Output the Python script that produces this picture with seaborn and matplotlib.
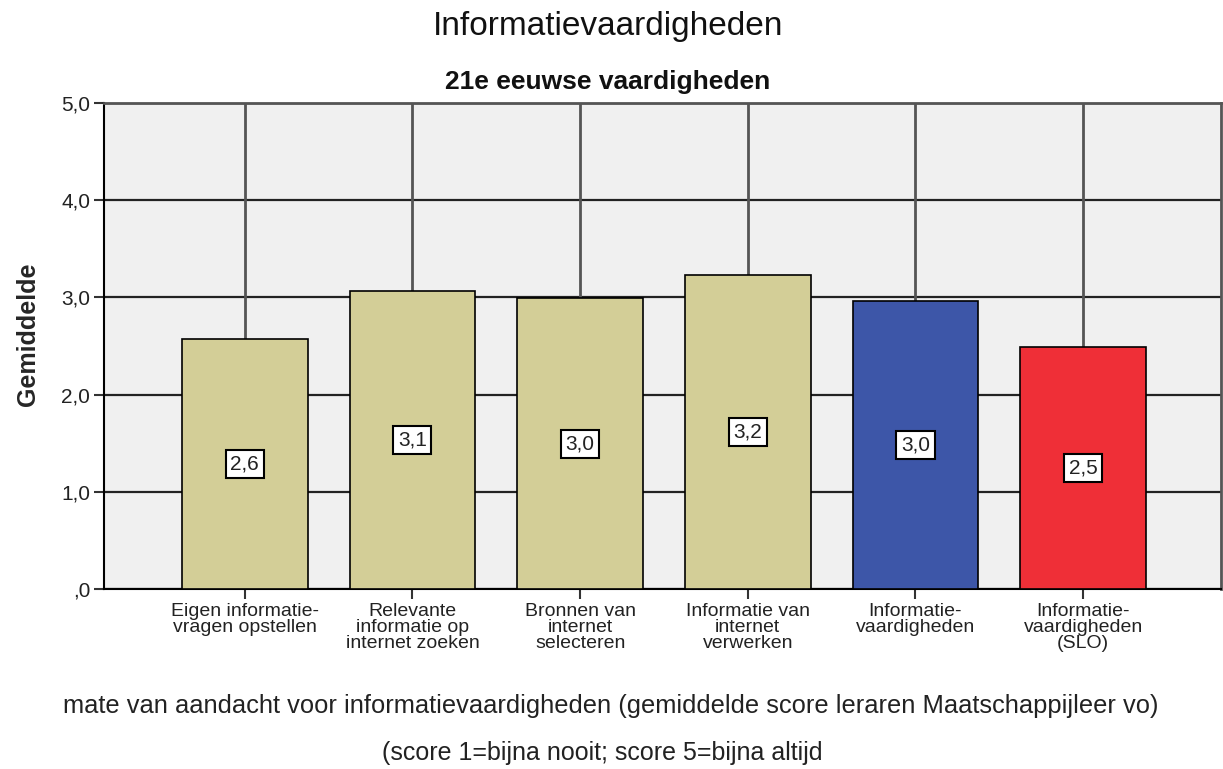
import matplotlib
matplotlib.use('Agg')
import matplotlib.pyplot as plt
import seaborn as sns
import pandas as pd

categories = ['Eigen informatie-\nvragen opstellen', 'Relevante\ninformatie op\ninternet zoeken',
              'Bronnen van\ninternet\nselecteren', 'Informatie van\ninternet\nverwerken',
              'Informatie-\nvaardigheden', 'Informatie-\nvaardigheden\n(SLO)']
values = [2.57, 3.07, 2.99, 3.23, 2.96, 2.49]
labels = ['2,6', '3,1', '3,0', '3,2', '3,0', '2,5']
colors = ['#D3CE97', '#D3CE97', '#D3CE97', '#D3CE97', '#3D56A8', '#EF2F37']
yticks = [0, 1, 2, 3, 4, 5]
ytick_labels = [',0', '1,0', '2,0', '3,0', '4,0', '5,0']

df = pd.DataFrame({'cat': categories, 'val': values})

sns.set_style('white')
plt.rcParams['font.family'] = ['Liberation Sans', 'DejaVu Sans']

fig = plt.figure(figsize=(12.23, 7.69), dpi=100)
ax = fig.add_axes([0.085, 0.234, 0.913, 0.632])
ax.set_facecolor('#F0F0F0')

sns.barplot(data=df, x='cat', y='val', hue='cat', palette=colors, legend=False, saturation=1,
            width=0.75, edgecolor='black', linewidth=1.2, ax=ax, zorder=3)

ax.set_xlim(-0.84, 5.82)
ax.set_ylim(0, 5)
ax.set_yticks(yticks)
ax.set_yticklabels(ytick_labels, fontsize=15, color='#222222')
ax.set_xticks(range(len(categories)))
ax.set_xticklabels(categories, fontsize=14, linespacing=0.94, color='#222222')
ax.tick_params(axis='both', direction='out', length=7, width=1.5, color='#333333',
               left=True, bottom=True, pad=3)

for y in yticks:
    ax.axhline(y, color='#222222', lw=1.6, zorder=1)
for x in range(len(categories)):
    ax.axvline(x, color='#555555', lw=2, zorder=1)

for sp in ['left', 'bottom']:
    ax.spines[sp].set_color('black')
    ax.spines[sp].set_linewidth(1.5)
for sp in ['top', 'right']:
    ax.spines[sp].set_color('#555555')
    ax.spines[sp].set_linewidth(2)

for i, (v, lab) in enumerate(zip(values, labels)):
    ax.text(i, v / 2, lab, ha='center', va='center', fontsize=15, zorder=5, color='#222222',
            bbox=dict(boxstyle='square,pad=0.22', facecolor='white', edgecolor='black', linewidth=1.5))

ax.set_xlabel('')
ax.set_ylabel('Gemiddelde', fontsize=18, fontweight='bold')
ax.yaxis.set_label_coords(-0.057, 0.525)

fig.text(0.497, 0.965, 'Informatievaardigheden', ha='center', va='center', fontsize=24, color='#111111')
fig.text(0.497, 0.893, '21e eeuwse vaardigheden', ha='center', va='center', fontsize=19,
         fontweight='bold', color='#111111')
fig.text(0.4996, 0.082, 'mate van aandacht voor informatievaardigheden (gemiddelde score leraren Maatschappijleer vo)',
         ha='center', va='center', fontsize=18.4, color='#222222')
fig.text(0.312, 0.021, '(score 1=bijna nooit; score 5=bijna altijd', ha='left', va='center',
         fontsize=18, color='#222222')

fig.savefig('out.png', dpi=100)
